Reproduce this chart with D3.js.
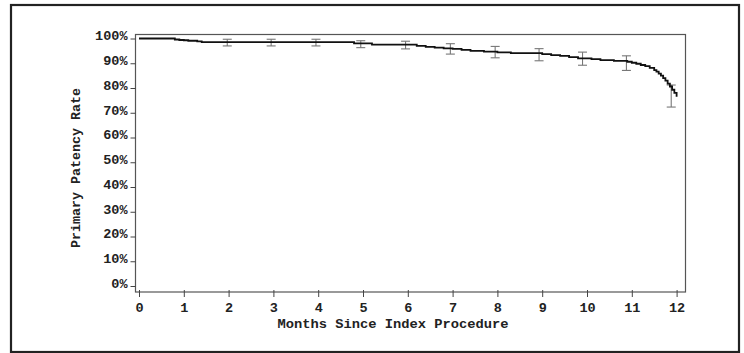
<!DOCTYPE html>
<html>
<head>
<meta charset="utf-8">
<script src="https://cdn.jsdelivr.net/npm/d3@7"></script>
<style>
  body { margin: 0; background: #fff; }
  svg text { font-family: "Liberation Mono", "DejaVu Sans Mono", monospace; font-weight: bold; fill: #222; }
</style>
</head>
<body>
<div id="chart"></div>
<script>
// Kaplan-Meier step curve (months, percent patent)
let months = [0, 0.8, 0.9, 1.0, 1.1, 1.3, 1.4, 4.8, 5.2, 6.2, 6.4, 6.6, 6.8, 7.0, 7.2, 7.4, 7.7, 8.0, 8.3,
  9.0, 9.2, 9.4, 9.6, 9.8, 10.1, 10.3, 10.6, 10.9, 11.0, 11.1, 11.2, 11.3, 11.4, 11.5, 11.55, 11.6,
  11.65, 11.7, 11.75, 11.8, 11.85, 11.9, 11.95, 12.0];
let patency = [100, 99.6, 99.4, 99.3, 99.1, 98.8, 98.5, 98.0, 97.5, 97.0, 96.6, 96.3, 96.0, 95.8, 95.4, 95.0, 94.7, 94.4, 94.1,
  93.7, 93.3, 93.0, 92.5, 92.0, 91.7, 91.3, 91.0, 90.6, 90.2, 89.8, 89.3, 88.8, 88.1, 87.2, 86.6, 85.8,
  85.0, 84.0, 83.0, 81.8, 80.6, 79.3, 78.0, 76.5];

// confidence bars
let ciMonths = [1.97, 2.95, 3.95, 4.95, 5.95, 6.95, 7.95, 8.93, 9.9, 10.88, 11.88];
let ciUpper = [99.7, 99.7, 99.7, 99.1, 98.9, 97.9, 96.8, 95.9, 94.5, 93.0, 81.2];
let ciLower = [97.0, 97.0, 97.0, 96.3, 95.8, 93.7, 92.2, 91.0, 89.2, 87.1, 72.3];

let xTicks = d3.range(0, 13);
let yTicks = d3.range(0, 101, 10);

let width = 744, height = 353;
let svg = d3.select("#chart").append("svg")
    .attr("width", width)
    .attr("height", height);

// outer border
svg.append("rect")
    .attr("x", 11).attr("y", 5)
    .attr("width", 728).attr("height", 347)
    .attr("fill", "none")
    .attr("stroke", "#222")
    .attr("stroke-width", 2.2);

let xscale = d3.scaleLinear().domain([0, 12]).range([139, 676.6]);
let yscale = d3.scaleLinear().domain([0, 100]).range([286, 38.5]);

// plot frame
svg.append("rect")
    .attr("x", 135.5).attr("y", 34.5)
    .attr("width", 550).attr("height", 257.5)
    .attr("fill", "none")
    .attr("stroke", "#555")
    .attr("stroke-width", 1.2);

// y axis
let yaxis = d3.axisLeft(yscale).tickValues(yTicks).tickSize(5).tickPadding(3)
    .tickFormat(d => d + "%");
let yG = svg.append("g").attr("transform", "translate(135.5,0)").call(yaxis);
yG.select(".domain").remove();
yG.selectAll(".tick line").attr("stroke", "#444");
yG.selectAll(".tick text")
    .attr("dy", "0.1em")
    .style("font-size", "13.5px");

// x axis
let xaxis = d3.axisBottom(xscale).tickValues(xTicks).tickSize(5).tickPadding(5);
let xG = svg.append("g").attr("transform", "translate(0,292)").call(xaxis);
xG.select(".domain").remove();
xG.selectAll(".tick line").attr("stroke", "#444").attr("y1", -2);
xG.selectAll(".tick text")
    .style("font-size", "13.5px");

// axis titles
svg.append("text")
    .attr("x", 393).attr("y", 328)
    .attr("text-anchor", "middle")
    .attr("textLength", 231)
    .attr("lengthAdjust", "spacingAndGlyphs")
    .style("font-size", "13.5px")
    .text("Months Since Index Procedure");

svg.append("text")
    .attr("transform", "translate(80,168) rotate(-90)")
    .attr("text-anchor", "middle")
    .attr("textLength", 160)
    .attr("lengthAdjust", "spacingAndGlyphs")
    .style("font-size", "13.5px")
    .text("Primary Patency Rate");

// error bars
let ci = ciMonths.map((m, i) => ({m: m, hi: ciUpper[i], lo: ciLower[i]}));
let bars = svg.append("g").attr("stroke", "#777").attr("stroke-width", 1.1);
bars.selectAll("line.stem").data(ci).enter().append("line")
    .attr("x1", d => xscale(d.m)).attr("x2", d => xscale(d.m))
    .attr("y1", d => yscale(d.hi)).attr("y2", d => yscale(d.lo));
bars.selectAll("line.top").data(ci).enter().append("line")
    .attr("x1", d => xscale(d.m) - 4.5).attr("x2", d => xscale(d.m) + 4.5)
    .attr("y1", d => yscale(d.hi)).attr("y2", d => yscale(d.hi));
bars.selectAll("line.bot").data(ci).enter().append("line")
    .attr("x1", d => xscale(d.m) - 4.5).attr("x2", d => xscale(d.m) + 4.5)
    .attr("y1", d => yscale(d.lo)).attr("y2", d => yscale(d.lo));

// survival curve
let pts = months.map((m, i) => [m, patency[i]]);
let line = d3.line()
    .x(d => xscale(d[0]))
    .y(d => yscale(d[1]))
    .curve(d3.curveStepAfter);
svg.append("path")
    .datum(pts)
    .attr("d", line)
    .attr("fill", "none")
    .attr("stroke", "#111")
    .attr("stroke-width", 1.8);
</script>
</body>
</html>
